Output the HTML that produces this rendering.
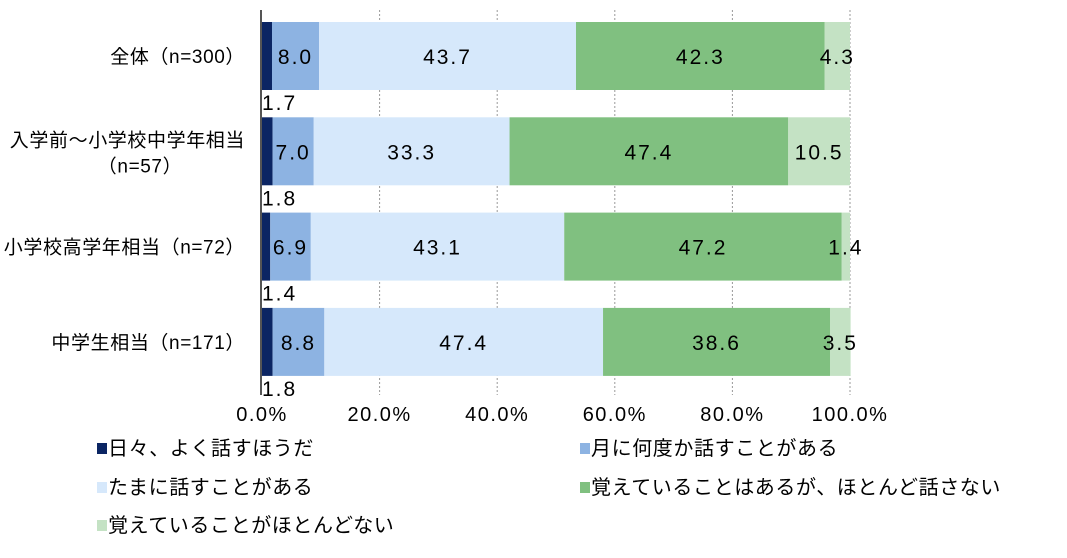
<!DOCTYPE html>
<html><head><meta charset="utf-8">
<style>
body{margin:0;background:#fff;width:1067px;height:553px;overflow:hidden;font-family:"Liberation Sans","Noto Sans CJK JP",sans-serif;}
svg text{font-family:"Liberation Sans","Noto Sans CJK JP",sans-serif;}
</style></head>
<body>
<svg id="chart" width="1067" height="553" xmlns="http://www.w3.org/2000/svg"></svg>
<script>
const categories = [["全体（n=300）"],["入学前～小学校中学年相当","（n=57）"],["小学校高学年相当（n=72）"],["中学生相当（n=171）"]];
const s0 = [1.7,1.8,1.4,1.8];
const s1 = [8.0,7.0,6.9,8.8];
const s2 = [43.7,33.3,43.1,47.4];
const s3 = [42.3,47.4,47.2,38.6];
const s4 = [4.3,10.5,1.4,3.5];
const seriesNames = ["日々、よく話すほうだ","月に何度か話すことがある","たまに話すことがある","覚えていることはあるが、ほとんど話さない","覚えていることがほとんどない"];
const ticks = [0,20,40,60,80,100];
const colors = ["#0b2563","#8db3e2","#d6e8fb","#80c080","#c4e2c4"];
const series = [s0,s1,s2,s3,s4];

const NS="http://www.w3.org/2000/svg";
const svg=document.getElementById('chart');
const x0=262,x1=850;
const xs=v=>x0+(x1-x0)*v/100;
const rowCenter=i=>56+i*95.3;
const barH=68;
function mk(t,a){const e=document.createElementNS(NS,t);for(const k in a)e.setAttribute(k,a[k]);svg.appendChild(e);return e;}

ticks.forEach((t,i)=>{
  if(t>0){const g=mk('line',{x1:xs(t),x2:xs(t),y1:10,y2:395,stroke:'#999','stroke-dasharray':'2,2','stroke-width':1});
  
  }
  const tx=mk('text',{x:xs(t),y:421,'text-anchor':'middle','font-size':20,'letter-spacing':1.5,fill:'#000'});
  tx.textContent=t.toFixed(1)+'%';
  
  
});

categories.forEach((c,i)=>{
  const cy=rowCenter(i);
  let acc=0;
  series.forEach((s,j)=>{
    const v=s[i];
    const r=mk('rect',{x:xs(acc),y:cy-barH/2,width:xs(acc+v)-xs(acc),height:barH,fill:colors[j]});
    
    
    const mid=(xs(acc)+xs(acc+v))/2;
    const lb=mk('text',{'font-size':21,'letter-spacing':2,fill:'#000'});
    if(j===0){lb.setAttribute('x',x0);lb.setAttribute('y',cy+barH/2+20);}
    else{lb.setAttribute('x',mid);lb.setAttribute('y',cy+8);lb.setAttribute('text-anchor','middle');}
    lb.textContent=v.toFixed(1);
    
    
    acc+=v;
  });
  c.forEach((line,k)=>{
    const multi=c.length>1;
    const t=mk('text',{x:multi&&k===1?140:245,y:cy+7+(multi?(k===0?-12:14):0),'text-anchor':multi&&k===1?'middle':'end','font-size':19,'letter-spacing':0.6,fill:'#000'});
    t.textContent=line;
    
    
  });
});
const ax=mk('line',{x1:261,x2:261,y1:10,y2:395,stroke:'#555','stroke-width':2});



const lpos=[[97,453],[580,453],[97,492],[580,492],[97,530]];
seriesNames.forEach((n,j)=>{
  const [lx,ly]=lpos[j];
  const m=mk('rect',{x:lx,y:ly-10,width:10,height:11,fill:colors[j]});
  
  
  const t=mk('text',{x:lx+11,y:ly+2,'font-size':20,'letter-spacing':0.6,fill:'#000'});
  t.textContent=n;
  
  
});
</script>
</body></html>
